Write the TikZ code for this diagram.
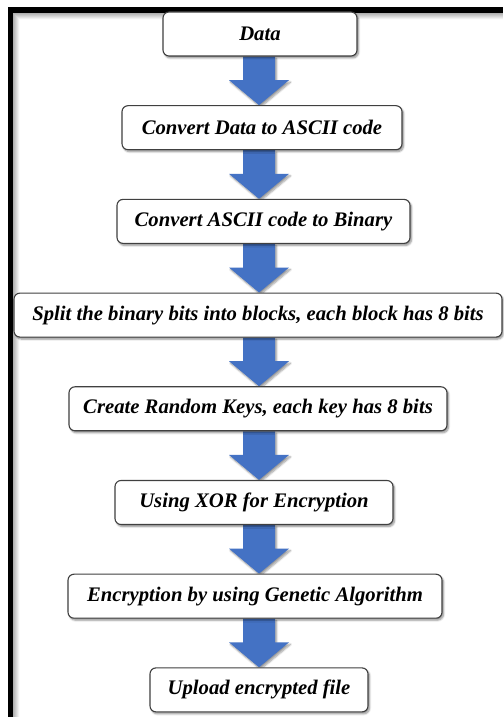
\documentclass[tikz,border=0pt]{standalone}
\usepackage{fontspec}
\setmainfont{Liberation Serif}
\usetikzlibrary{positioning, calc, backgrounds, shadows.blur}

\definecolor{arrowblue}{HTML}{4472C4}
\tikzset{
  stepbox/.style={draw=black!75, line width=1.1pt, rounded corners=6pt, fill=white,
    minimum height=44pt, inner sep=0pt,
    font=\fontsize{20.7}{24}\selectfont\bfseries\itshape,
    blur shadow={shadow xshift=1.5pt, shadow yshift=-2pt, shadow blur steps=6, shadow opacity=45}},
  flowarrow/.style={fill=arrowblue,
    blur shadow={shadow xshift=1.5pt, shadow yshift=-2pt, shadow blur steps=6, shadow opacity=40}}
}

\begin{document}
\begin{tikzpicture}[x=1pt, y=1pt, node distance=93.7pt, on grid]
\useasboundingbox (0,0) rectangle (503,717);

% frame
\foreach \i in {1,...,7}
  \draw[black, opacity={0.36-0.05*\i}, line width=1pt] (12.5+\i,0) -- (12.5+\i,704.5-\i) -- (503,704.5-\i);
\draw[line width=5.5pt] (10.5,0) -- (10.5,707) -- (503,707);

\node[stepbox, minimum width=194pt] (data) at (260,683) {Data};
\node[stepbox, minimum width=280pt] (ascii) [below=of data, xshift=2pt] {Convert Data to ASCII code};
\node[stepbox, minimum width=293pt] (binary) [below=of ascii, xshift=1.5pt] {Convert ASCII code to Binary};
\node[stepbox, minimum width=488pt] (split) [below=of binary, xshift=-5.5pt] {Split the binary bits into blocks, each block has 8 bits};
\node[stepbox, minimum width=378pt] (keys) [below=of split] {Create Random Keys, each key has 8 bits};
\node[stepbox, minimum width=278pt] (xor) [below=of keys, xshift=-4pt] {Using XOR for Encryption};
\node[stepbox, minimum width=374pt] (ga) [below=of xor, xshift=1pt] {Encryption by using Genetic Algorithm};
\node[stepbox, minimum width=218pt] (upload) [below=of ga, xshift=4pt] {Upload encrypted file};

% block arrows
\coordinate (axis) at (259,0);
\begin{pgfonlayer}{background}
\foreach \a/\b in {data/ascii, ascii/binary, binary/split, split/keys, keys/xor, xor/ga, ga/upload}
  \fill[flowarrow] ($(\a.south -| axis)+(-16,0)$) -- ($(\a.south -| axis)+(16,0)$)
    -- ($(\b.north -| axis)+(16,25)$) -- ($(\b.north -| axis)+(30,25)$)
    -- (\b.north -| axis) -- ($(\b.north -| axis)+(-30,25)$)
    -- ($(\b.north -| axis)+(-16,25)$) -- cycle;
\end{pgfonlayer}
\end{tikzpicture}
\end{document}
